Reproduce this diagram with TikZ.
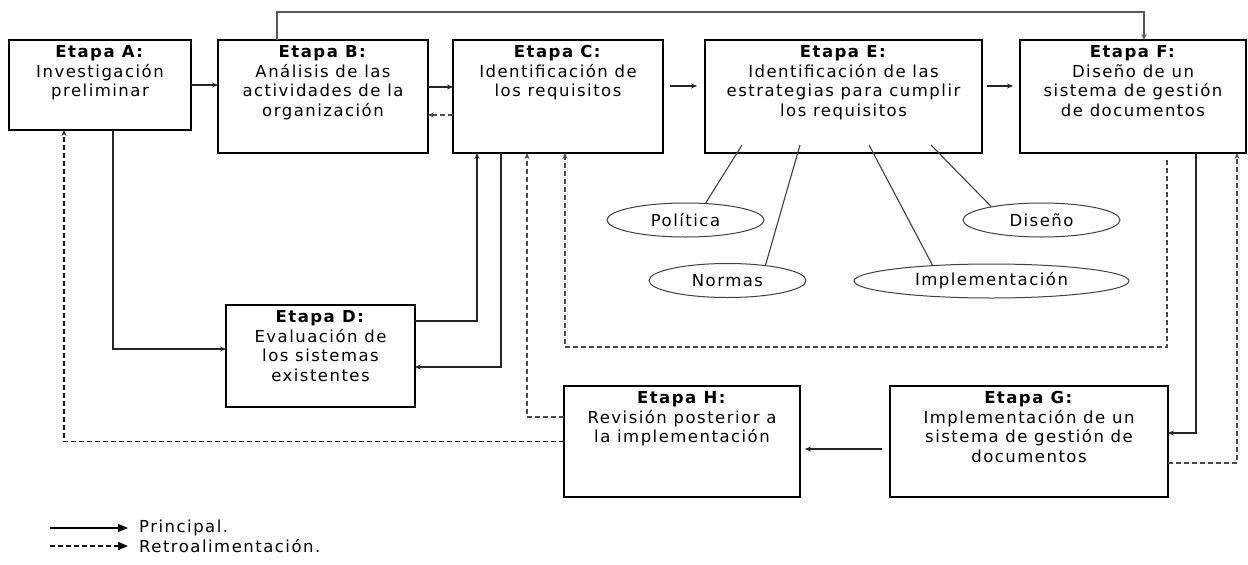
\documentclass[tikz,border=0pt]{standalone}
\usepackage{fontspec}
\setmainfont{DejaVu Sans}[LetterSpace=9]
\usetikzlibrary{positioning,shapes.geometric,arrows.meta}
\newcommand\stagefont{\fontsize{16.5}{19.5}\selectfont}

\begin{document}
\begin{tikzpicture}[
            x=1pt,y=1pt,
            every node/.append style={black},
            stage/.style 2 args={draw,line width=1.3pt,minimum width=#1,minimum height=#2,inner sep=0pt,outer sep=0pt},
            stagetext/.style={align=center,inner sep=0pt,font=\stagefont},
            topic/.style={ellipse,draw=black!75,line width=1pt,minimum width=#1,minimum height=34pt,inner sep=0pt,font=\stagefont},
            main/.style={draw=black!85,line width=1.3pt,-{Stealth[length=6pt,width=5pt,inset=2pt]}},
            fb/.style={draw=black!70,line width=1.2pt,dash pattern=on 5pt off 3pt,-{Stealth[length=6pt,width=5pt,inset=2pt]}},
            spoke/.style={draw=black!75,line width=1.1pt},
            legend/.style={draw=black,line width=1.2pt,-{Triangle[length=10pt,width=8pt]}}
        ]
            \useasboundingbox (0,0) rectangle (1248,-565);

            \node[stage={182pt}{90pt}] (A) at (100,-85) {};
            \node[stage={210pt}{113pt}] (B) at (323,-96.5) {};
            \node[stage={210pt}{113pt}] (C) at (558,-96.5) {};
            \node[stage={277pt}{113pt}] (E) at (843.5,-96.5) {};
            \node[stage={226pt}{113pt}] (F) at (1133,-96.5) {};
            \node[stage={189pt}{102pt}] (D) at (320.5,-356) {};
            \node[stage={236pt}{111pt}] (H) at (682,-441.5) {};
            \node[stage={278pt}{111pt}] (G) at (1029,-441.5) {};

            \node[stagetext,below=5.5pt of A.north] (At) {\textbf{Etapa A:}\\Investigación\\preliminar};
            \node[stagetext,below=5.5pt of B.north] (Bt) {\textbf{Etapa B:}\\Análisis de las\\actividades de la\\organización};
            \node[stagetext,below=5.5pt of C.north] (Ct) {\textbf{Etapa C:}\\Identificación de\\los requisitos};
            \node[stagetext,below=5.5pt of E.north] (Et) {\textbf{Etapa E:}\\Identificación de las\\estrategias para cumplir\\los requisitos};
            \node[stagetext,below=5.5pt of F.north] (Ft) {\textbf{Etapa F:}\\Diseño de un\\sistema de gestión\\de documentos};
            \node[stagetext,below=5.5pt of D.north] (Dt) {\textbf{Etapa D:}\\Evaluación de\\los sistemas\\existentes};
            \node[stagetext,below=5.5pt of H.north] (Ht) {\textbf{Etapa H:}\\Revisión posterior a\\la implementación};
            \node[stagetext,below=5.5pt of G.north] (Gt) {\textbf{Etapa G:}\\Implementación de un\\sistema de gestión de\\documentos};

            \node[topic=157pt] (pol) at (685.5,-220) {Política};
            \node[topic=157pt] (dis) at (1041.5,-220) {Diseño};
            \node[topic=157pt] (nor) at (727.5,-280.5) {Normas};
            \node[topic=275pt] (imp) at (991.5,-281) {Implementación};

            \draw[spoke] ([xshift=-101.5pt,yshift=8pt]E.south) -- (pol.40);
            \draw[spoke] ([xshift=-43.5pt,yshift=8pt]E.south) -- (nor.22);
            \draw[spoke] ([xshift=25.5pt,yshift=8pt]E.south) -- (imp.165);
            \draw[spoke] ([xshift=87.5pt,yshift=8pt]E.south) -- (dis.165);

            \coordinate (top) at (0,-12);
            \draw[main] (A.east) -- (A.east -| B.west);
            \draw[main] ([yshift=9.5pt]B.east) -- ([yshift=9.5pt]C.west);
            \draw[fb] ([yshift=-18.5pt]C.west) -- ([yshift=-18.5pt]B.east);
            \draw[main] ([xshift=7pt,yshift=10.5pt]C.east) -- ([xshift=-8pt,yshift=10.5pt]E.west);
            \draw[main] ([xshift=5pt,yshift=10.5pt]E.east) -- ([xshift=-7pt,yshift=10.5pt]F.west);
            \draw[main,draw=black!65] ([xshift=-46pt]B.north) -- ([xshift=-46pt]B.north |- top) -| ([xshift=11pt]F.north);
            \draw[main] ([xshift=13pt]A.south) |- ([yshift=7pt]D.west);
            \draw[main] ([yshift=35pt]D.east) -| ([xshift=-81pt]C.south);
            \draw[main] ([xshift=-57pt]C.south) |- ([yshift=-11pt]D.east);
            \draw[fb] ([yshift=24.5pt]H.west) -| ([xshift=-31pt]C.south);
            \draw[fb] ([xshift=34pt,yshift=-7pt]F.south) -- ++(0,-187pt) -| ([xshift=7pt]C.south);
            \draw[main] ([xshift=63pt]F.south) |- ([yshift=8.5pt]G.east);
            \draw[main] ([xshift=-8pt,yshift=-7.5pt]G.west) -- ([xshift=5pt,yshift=-7.5pt]H.east);
            \draw[fb] ([yshift=-21.5pt]G.east) -| ([xshift=104pt]F.south);
            \draw[fb,draw=black!90] (H.west) -| ([xshift=-36pt]A.south);

            \node[anchor=west,inner sep=0pt,font=\stagefont] (lmain) at (139,-528) {Principal.};
            \node[anchor=west,inner sep=0pt,font=\stagefont] (lfb) at (139,-546) {Retroalimentación.};
            \coordinate (lmain0) at (50,-528);
            \coordinate (lfb0) at (50,-546);
            \draw[legend] (lmain0) -- ([xshift=-11pt]lmain0 -| lmain.west);
            \draw[legend,dash pattern=on 5pt off 3pt] (lfb0) -- ([xshift=-11pt]lfb0 -| lfb.west);
        \end{tikzpicture}
\end{document}
